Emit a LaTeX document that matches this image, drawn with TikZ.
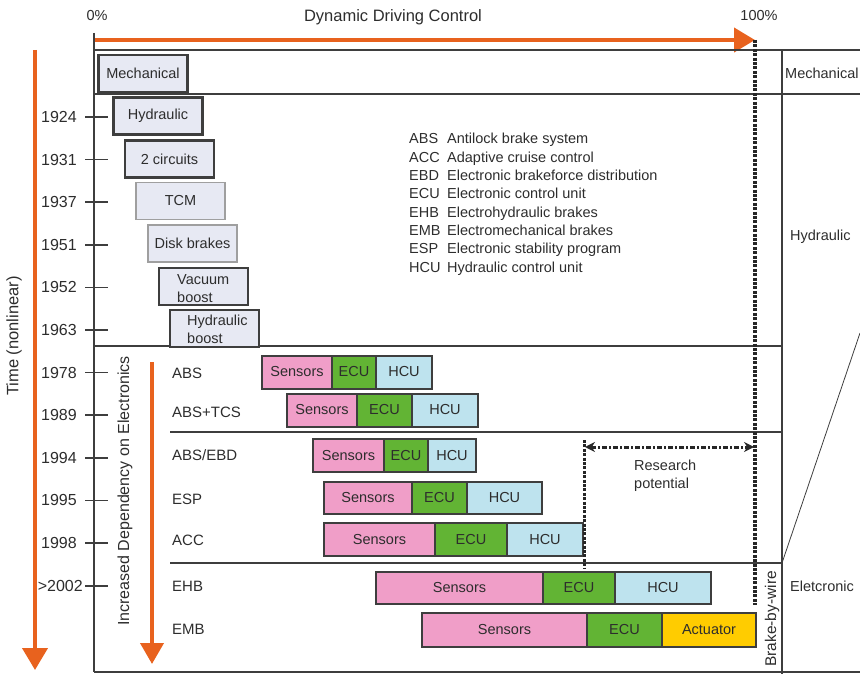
\documentclass[tikz,border=0pt]{standalone}
\usepackage{fontspec}
\setmainfont{Liberation Sans}
\usepackage{tikz}
\usetikzlibrary{positioning,arrows.meta}
\definecolor{timeorange}{RGB}{232,98,30}
\definecolor{framegray}{RGB}{62,62,62}
\definecolor{oldfill}{RGB}{231,233,243}
\definecolor{sensorpink}{RGB}{240,158,200}
\definecolor{ecugreen}{RGB}{98,180,52}
\definecolor{hcublue}{RGB}{190,227,238}
\definecolor{actyellow}{RGB}{255,204,0}
\definecolor{txtgray}{RGB}{45,45,45}

\begin{document}
\begin{tikzpicture}[x=1pt, y=-1pt,
          txt/.style={font=\fontsize{14.5}{18}\selectfont, text=txtgray, inner sep=0pt},
          rowtxt/.style={txt, font=\fontsize{15}{18}\selectfont, anchor=west},
          yeartxt/.style={txt, font=\fontsize{16}{18}\selectfont, anchor=east},
          oldbox/.style={draw=framegray, line width=2.2pt, fill=oldfill,
                         minimum width=89pt, minimum height=37pt, inner sep=0pt,
                         font=\fontsize{14.5}{18}\selectfont, text=txtgray},
          paleold/.style={oldbox, draw=gray!75, line width=1.3pt},
          bar/.style={draw=framegray, line width=2pt, minimum height=33pt,
                      inner sep=0pt, outer sep=0pt, anchor=west,
                      font=\fontsize{14.5}{18}\selectfont, text=txtgray},
          sens/.style={bar, fill=sensorpink},
          ecu/.style={bar, fill=ecugreen},
          hcu/.style={bar, fill=hcublue},
          act/.style={bar, fill=actyellow},
          gridline/.style={draw=framegray, line width=2pt},
          tick/.style={draw=framegray, line width=1.5pt},
          bigarr/.style={draw=timeorange, line width=4pt,
                         -{Triangle[length=21pt,width=24pt]}},
          bbw/.style={draw=black!85, line width=3.6pt, dash pattern=on 3pt off 1.4pt},
          respot/.style={draw=black!85, line width=3pt, dash pattern=on 5pt off 2pt on 2pt off 2pt}]
          \useasboundingbox (0,0) rectangle (860,674);

          % axes and frame
          \node[txt] (zero) at (97,16) {0\%};
          \node[txt] (hundred) at (759,16) {100\%};
          \node[txt, font=\fontsize{16.5}{18}\selectfont] (ddc) at (393,17) {Dynamic Driving Control};
          \coordinate (ctrlstart) at (94,40);
          \coordinate (ctrlend) at (755,40);
          \draw[bigarr] (ctrlstart) -- (ctrlend);
          \coordinate (timestart) at (35,50);
          \coordinate (timeend) at (35,670);
          \draw[bigarr, -{Triangle[length=22pt,width=25pt]}] (timestart) -- (timeend);
          \node[txt, font=\fontsize{16.5}{18}\selectfont, rotate=90] (timelbl) at (14,336) {Time (nonlinear)};

          \draw[gridline] (94,33) -- (94,672);
          \draw[gridline] (94,50) -- (860,50);
          \draw[gridline] (94,94) -- (860,94);
          \draw[gridline] (94,346) -- (782,346);
          \draw[gridline] (170,432) -- (782,432);
          \draw[gridline] (170,563) -- (782,563);
          \draw[gridline] (94,672) -- (860,672);
          \draw[gridline] (782,50) -- (782,674);
          \draw[draw=framegray, line width=0.8pt] (782,563) -- (860,333);

          % years
          \foreach \yr [count=\i from 0] in {1924,1931,1937,1951,1952,1963,1978,1989,1994,1995,1998} {
            \node[yeartxt] (yr\i) at (77,{117+42.6*\i}) {\yr};
            \draw[tick] ([xshift=8pt]yr\i.east) -- ++(23,0);
          }
          \node[yeartxt] (yr11) at (83,586) {>2002};
          \draw[tick] ([xshift=2pt]yr11.east) -- ++(23,0);

          % mechanical and hydraulic era
          \node[oldbox] (mech) at (143,73.5) {Mechanical};
          \node[oldbox] (hyd) at (158,116) {Hydraulic};
          \node[oldbox] (twoc) at (169.5,159) {2 circuits};
          \node[paleold] (tcm) at (180.5,201) {TCM};
          \node[paleold] (disk) at (192.5,243.5) {Disk brakes};
          \node[oldbox] (vac) at (203.5,286.5) {};
          \node[txt, align=left, anchor=west] (vactxt) at (177,289) {Vacuum\\boost};
          \node[oldbox] (hydb) at (214.5,328.5) {};
          \node[txt, align=left, anchor=west] (hydbtxt) at (187,329) {Hydraulic\\boost};

          % abbreviations
          \foreach \ab/\desc [count=\i from 0] in {ABS/Antilock brake system,
              ACC/Adaptive cruise control, EBD/Electronic brakeforce distribution,
              ECU/Electronic control unit, EHB/Electrohydraulic brakes,
              EMB/Electromechanical brakes, ESP/Electronic stability program,
              HCU/Hydraulic control unit} {
            \node[txt, anchor=base west] (ab\i) at (409,{144+18.3*\i}) {\ab};
            \node[txt, anchor=base west] (de\i) at (447,{144+18.3*\i}) {\desc};
          }

          % electronic era
          \coordinate (deptop) at (152,362);
          \coordinate (depend) at (152,664);
          \draw[bigarr, -{Triangle[length=21pt,width=23pt]}] (deptop) -- (depend);
          \node[txt, font=\fontsize{16}{18}\selectfont, rotate=90] (deplbl) at (125,491) {Increased Dependency on Electronics};

          \node[rowtxt] (labs) at (172,373) {ABS};
          \node[sens, minimum width=70pt] (abss) at (262,372) {Sensors};
          \node[ecu, minimum width=44pt, right=0pt of abss] (abse) {ECU};
          \node[hcu, minimum width=56pt, right=0pt of abse] (absh) {HCU};

          \node[rowtxt] (ltcs) at (172,412) {ABS+TCS};
          \node[sens, minimum width=70pt] (tcss) at (287,410) {Sensors};
          \node[ecu, minimum width=55pt, right=0pt of tcss] (tcse) {ECU};
          \node[hcu, minimum width=66pt, right=0pt of tcse] (tcsh) {HCU};

          \node[rowtxt] (lebd) at (172,455) {ABS/EBD};
          \node[sens, minimum width=71pt] (ebds) at (313,455.5) {Sensors};
          \node[ecu, minimum width=44pt, right=0pt of ebds] (ebde) {ECU};
          \node[hcu, minimum width=48pt, right=0pt of ebde] (ebdh) {HCU};

          \node[rowtxt] (lesp) at (172,499) {ESP};
          \node[sens, minimum width=88pt, minimum height=32pt] (esps) at (324,497.5) {Sensors};
          \node[ecu, minimum width=55pt, minimum height=32pt, right=0pt of esps] (espe) {ECU};
          \node[hcu, minimum width=75pt, minimum height=32pt, right=0pt of espe] (esph) {HCU};

          \node[rowtxt] (lacc) at (172,540) {ACC};
          \node[sens, minimum width=111pt] (accs) at (324,539.5) {Sensors};
          \node[ecu, minimum width=72pt, right=0pt of accs] (acce) {ECU};
          \node[hcu, minimum width=76pt, right=0pt of acce] (acch) {HCU};

          \node[rowtxt] (lehb) at (172,586) {EHB};
          \node[sens, minimum width=167pt, minimum height=32pt] (ehbs) at (376,588) {Sensors};
          \node[ecu, minimum width=72pt, minimum height=32pt, right=0pt of ehbs] (ehbe) {ECU};
          \node[hcu, minimum width=96pt, minimum height=32pt, right=0pt of ehbe] (ehbh) {HCU};

          \node[rowtxt] (lemb) at (172,629) {EMB};
          \node[sens, minimum width=165pt, minimum height=34pt] (embs) at (422,630) {Sensors};
          \node[ecu, minimum width=75pt, minimum height=34pt, right=0pt of embs] (embe) {ECU};
          \node[act, minimum width=94pt, minimum height=34pt, right=0pt of embe] (emba) {Actuator};

          % brake-by-wire and research potential
          \coordinate (bbwtop) at (755,40);
          \coordinate (bbwend) at (755,605);
          \draw[bbw] (bbwtop) -- (bbwend);
          \node[txt, font=\fontsize{15.5}{18}\selectfont, rotate=90] (bbwlbl) at (772,619) {Brake-by-wire};
          \coordinate (restop) at (584,440);
          \coordinate (resend) at (584,568);
          \draw[bbw, line width=3pt] (restop) -- (resend);
          \coordinate (resleft) at (585,447);
          \coordinate (resright) at (754,447);
          \draw[respot, {Stealth[length=10pt,width=10pt]}-{Stealth[length=10pt,width=10pt]}] (resleft) -- (resright);
          \node[txt, align=left, anchor=west] (restxt) at (634,476) {Research\\potential};

          % right column
          \node[txt, anchor=west] (cmech) at (785,73) {Mechanical};
          \node[txt, anchor=west] (chyd) at (790,237) {Hydraulic};
          \node[txt, anchor=west] (celec) at (790,586) {Eletcronic};
        \end{tikzpicture}
\end{document}
